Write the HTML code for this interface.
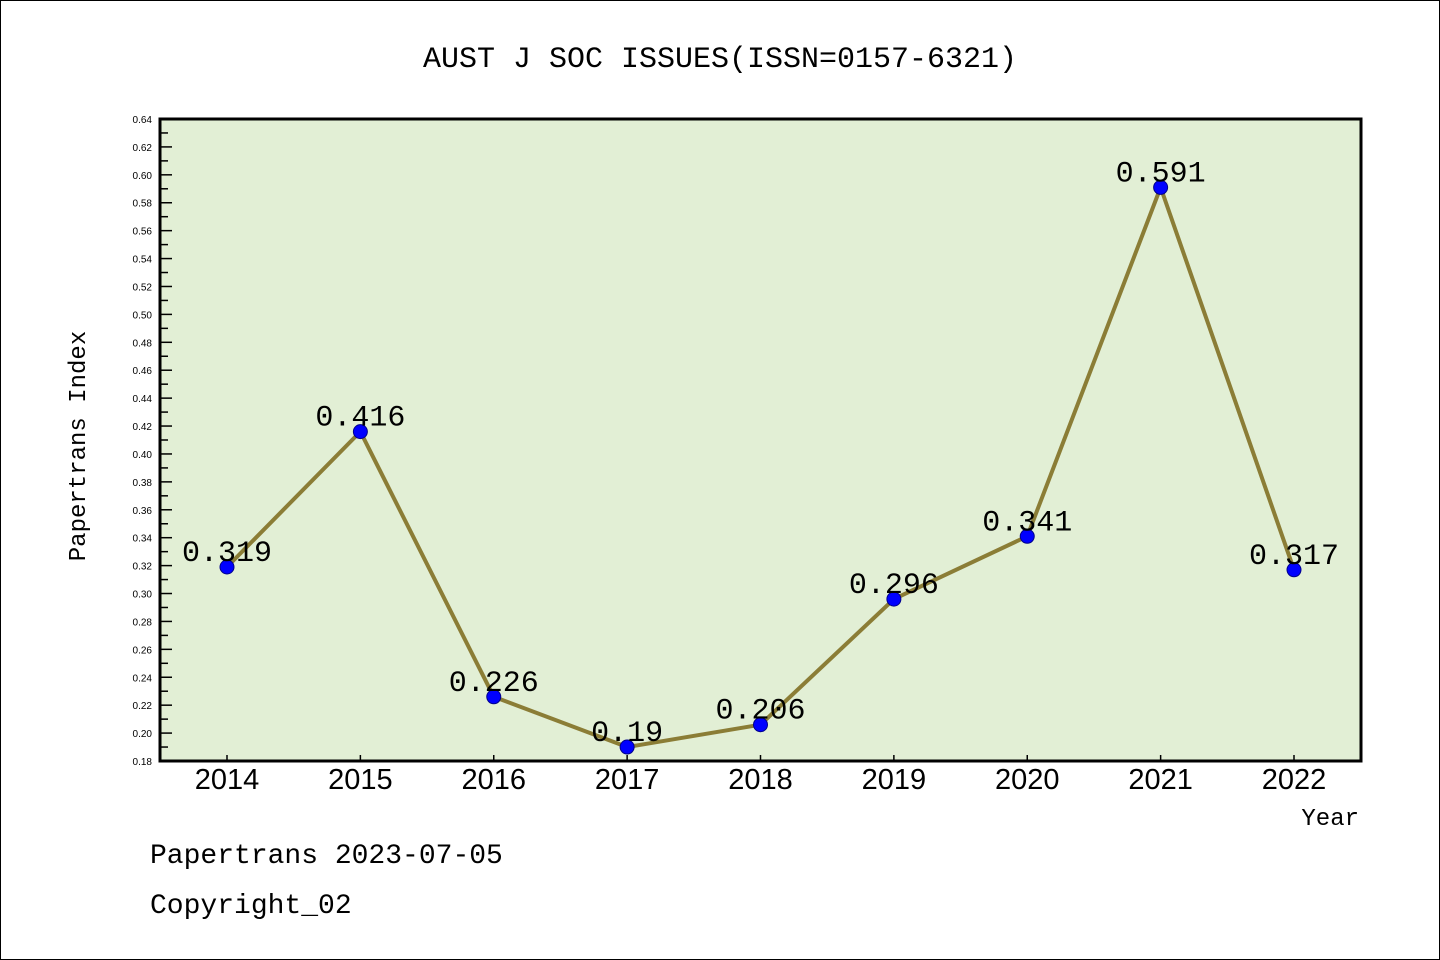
<!DOCTYPE html>
<html><head><meta charset="utf-8"><style>
html,body{margin:0;padding:0;background:#fff;}
svg{display:block;}
</style></head><body>
<svg width="1440" height="960" xmlns="http://www.w3.org/2000/svg">
<rect x="0.5" y="0.5" width="1439" height="959" fill="#fff" stroke="#000" stroke-width="1"/>
<text x="720" y="67" text-anchor="middle" font-family="Liberation Mono, monospace" font-size="30">AUST J SOC ISSUES(ISSN=0157-6321)</text>
<rect x="160" y="119" width="1201" height="642" fill="#e2efd5"/>
<g id="yaxis"></g>
<g id="xaxis"></g>
<g id="series"></g>
<rect x="160" y="119" width="1201" height="642" fill="none" stroke="#000" stroke-width="3"/>
<text x="85" y="446" text-anchor="middle" transform="rotate(-90 85 446)" font-family="Liberation Mono, monospace" font-size="24">Papertrans Index</text>
<text x="1359" y="825" text-anchor="end" font-family="Liberation Mono, monospace" font-size="24">Year</text>
<text x="150" y="863" font-family="Liberation Mono, monospace" font-size="28">Papertrans 2023-07-05</text>
<text x="150" y="913" font-family="Liberation Mono, monospace" font-size="28">Copyright_02</text>
</svg>
<script>
const years = ["2014","2015","2016","2017","2018","2019","2020","2021","2022"];
const values = [0.319,0.416,0.226,0.19,0.206,0.296,0.341,0.591,0.317];
const valueLabels = ["0.319","0.416","0.226","0.19","0.206","0.296","0.341","0.591","0.317"];
const yMin = 0.18, yMax = 0.64, yStep = 0.02;

const NS="http://www.w3.org/2000/svg";
const L=160,R=1361,T=119,B=761;
const sy=v=>B-(v-yMin)/(yMax-yMin)*(B-T);
const x0=227, dx=(1294-227)/(years.length-1);
const sx=i=>x0+i*dx;
function mk(tag,attrs,parent,text){const e=document.createElementNS(NS,tag);for(const k in attrs)e.setAttribute(k,attrs[k]);if(text!==undefined)e.textContent=text;parent.appendChild(e);return e;}
const ya=document.getElementById('yaxis');
const n=Math.round((yMax-yMin)/yStep);
for(let i=0;i<=n;i++){
  const v=yMin+i*yStep, y=sy(v);
  const t=mk('line',{x1:L,x2:L+12,y1:y,y2:y,stroke:'#000','stroke-width':1.5},ya);
  
  
  const lb=mk('text',{x:152,y:y+4,'text-anchor':'end','font-family':'Liberation Sans, sans-serif','font-size':10},ya,v.toFixed(2));
  
  
  if(i<n){const ym=sy(v+yStep/2);
    const m=mk('line',{x1:L,x2:L+8,y1:ym,y2:ym,stroke:'#000','stroke-width':1.5},ya);
    
    }
}
const xa=document.getElementById('xaxis');
years.forEach((yr,i)=>{
  const x=sx(i);
  const t=mk('line',{x1:x,x2:x,y1:B,y2:B-6,stroke:'#000','stroke-width':1.5},xa);
  
  
  const lb=mk('text',{x:x,y:789,'text-anchor':'middle','font-family':'Liberation Sans, sans-serif','font-size':29},xa,yr);
  
  
});
const sg=document.getElementById('series');
const pts=values.map((v,i)=>sx(i)+','+sy(v)).join(' ');
const pl=mk('polyline',{points:pts,fill:'none',stroke:'#8b7d36','stroke-width':4,'stroke-linejoin':'round'},sg);


values.forEach((v,i)=>{
  const c=mk('circle',{cx:sx(i),cy:sy(v),r:7,fill:'#0000ff',stroke:'#00008b','stroke-width':1},sg);
  
  
  const t=mk('text',{x:sx(i),y:sy(v)-6,'text-anchor':'middle','font-family':'Liberation Mono, monospace','font-size':30},sg,valueLabels[i]);
  
  
});
</script>
</body></html>
